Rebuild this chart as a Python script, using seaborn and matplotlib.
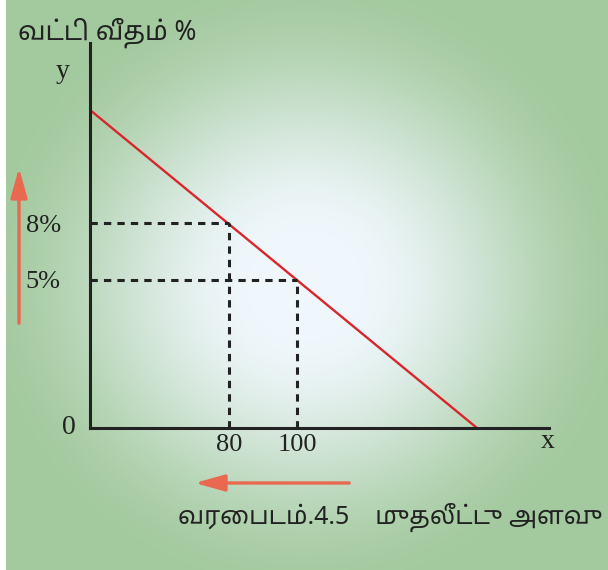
import numpy as np
import matplotlib
matplotlib.use("Agg")
import matplotlib.pyplot as plt
import seaborn as sns

# values (schematic chart units)
line_x = [0, 387]          # demand line for investment
line_y = [318, 0]
inv_labels = ["80", "100"]
inv_pos = [139, 207]
rate_labels = ["8%", "5%"]
rate_pos = [205, 148]
y_title = "வட்டி வீதம் %"
x_title = "முதலீட்டு அளவு"
fig_title = "வரைபடம்.4.5"

sns.set_theme(style="white")
tamil_fam = ["Noto Sans Tamil", "DejaVu Sans"]

fig = plt.figure(figsize=(6.08, 5.7), dpi=100)

# background radial gradient
bg = fig.add_axes([6 / 608, 0, 602 / 608, 1], zorder=-10)
yy, xx = np.mgrid[0:570, 6:608]
r = np.sqrt(((xx - 305) / 360) ** 2 + ((yy - 285) / 345) ** 2)
t = np.clip((r - 0.12) / 0.8, 0, 1)
t = 3 * t ** 2 - 2 * t ** 3
c0 = np.array([0.94, 0.97, 0.99])
c1 = np.array([0.64, 0.79, 0.62])
img = c0 + (c1 - c0) * t[..., None]
bg.imshow(img, aspect="auto")
bg.axis("off")

ax = fig.add_axes([90 / 608, 1 - 428 / 570, 459 / 608, 385 / 570])
ax.patch.set_alpha(0)
ax.set_xlim(0, 459)
ax.set_ylim(0, 385)

sns.lineplot(x=line_x, y=line_y, ax=ax, color="#d9262b", lw=1.7)

dash = (0, (2.4, 2))
for xv, yv in zip(inv_pos, rate_pos):
    ax.plot([0, xv], [yv, yv], color="#222222", lw=2.2, linestyle=dash)
    ax.plot([xv, xv], [0, yv], color="#222222", lw=2.2, linestyle=dash)

for s in ["top", "right"]:
    ax.spines[s].set_visible(False)
for s in ["left", "bottom"]:
    ax.spines[s].set_linewidth(2.2)
    ax.spines[s].set_color("#222222")

ax.set_xticks(inv_pos)
ax.set_xticklabels(inv_labels, fontfamily="Liberation Serif", fontsize=19, color="#222222")
ax.set_yticks(rate_pos)
ax.set_yticklabels(rate_labels, fontfamily="Liberation Serif", fontsize=19, color="#222222")
ax.tick_params(axis="y", length=0, pad=21)
ax.tick_params(axis="x", length=0, pad=4)
ax.grid(False)

serif = dict(fontfamily="Liberation Serif", fontsize=20, color="#222222")
fig.text(18 / 608, 1 - 33 / 570, y_title, family=tamil_fam, fontsize=19,
         color="#222222", va="center")
fig.text(63 / 608, 1 - 72 / 570, "y", ha="center", va="center", **serif)
fig.text(548 / 608, 1 - 442 / 570, "x", ha="center", va="center", **serif)
fig.text(69 / 608, 1 - 427 / 570, "0", ha="center", va="center", **serif)

fig.text(178 / 608, 1 - 517 / 570, fig_title + "    " + x_title, family=tamil_fam,
         fontsize=18, color="#222222", va="center")

arrow = dict(arrowstyle="-|>,head_length=1.0,head_width=0.28", color="#e8694f",
             lw=2.4, mutation_scale=18)
ax.annotate("", xy=(19 / 608, 1 - 165 / 570), xytext=(19 / 608, 1 - 326 / 570),
            xycoords="figure fraction", arrowprops=arrow)
ax.annotate("", xy=(192 / 608, 1 - 483 / 570), xytext=(352 / 608, 1 - 483 / 570),
            xycoords="figure fraction", arrowprops=arrow)

fig.savefig("out.png", dpi=100)
